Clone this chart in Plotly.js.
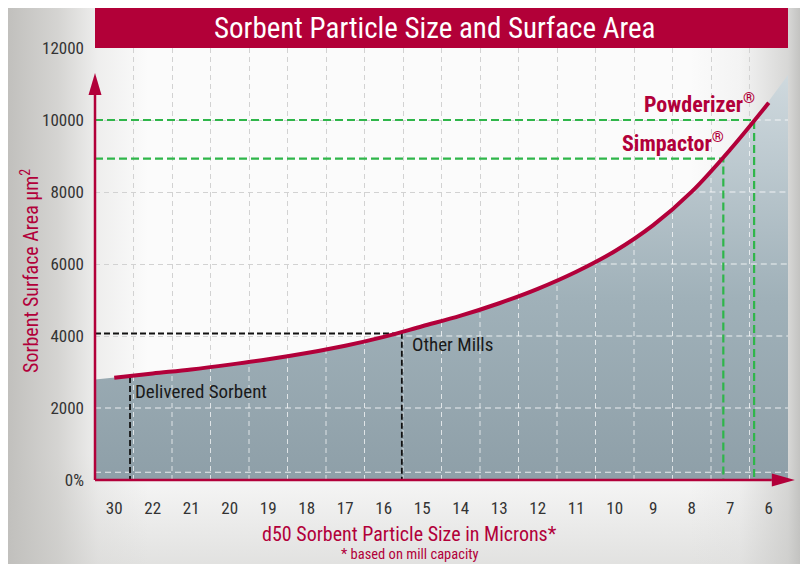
<!DOCTYPE html>
<html><head><meta charset="utf-8">
<script src="https://cdn.plot.ly/plotly-3.0.1.min.js"></script>
<style>
html,body{margin:0;padding:0;width:800px;height:564px;overflow:hidden;background:#fff;}
#bg{position:absolute;left:8px;top:8px;width:792px;height:556px;
background:
 linear-gradient(to right, #c1c0bd 0px, rgba(200,199,196,0.75) 50px, rgba(215,214,212,0.35) 90px, rgba(230,230,230,0) 140px),
 linear-gradient(to left, #c3c3c1 0px, rgba(200,200,198,0.7) 12px, rgba(220,220,220,0.25) 60px, rgba(230,230,230,0) 110px),
 linear-gradient(to top, rgba(215,215,213,0.7) 0px, rgba(230,230,230,0) 110px),
 #fbfbfb;}
#chart{position:absolute;left:0;top:0;width:800px;height:564px;}
</style></head><body>
<div id="bg"></div><div id="chart"></div>
<script>
// ---- data ----
const sizeLabels = ['30','22','21','20','19','18','17','16','15','14','13','12','11','10','9','8','7','6'];
const surfaceArea = [2842,2960,3070,3205,3355,3530,3730,3975,4270,4565,4910,5310,5785,6355,7080,8010,9180,10480];
// shaded area height at the 19 category edges
const areaEdges = [2790,2890,3010,3140,3275,3445,3620,3850,4115,4415,4730,5105,5535,6065,6690,7560,8560,9800,11250];
const millNames = ['Delivered Sorbent','Other Mills','Simpactor<sup>®</sup>','Powderizer<sup>®</sup>'];
const millPos = [0.91, 7.97, 16.32, 17.12];   // position along size axis, category units
const millArea = [2860, 4070, 8925, 10000];
const yTickVals = [0,2000,4000,6000,8000,10000,12000];
const yTickText = ['0%','2000','4000','6000','8000','10000','12000'];
const baseGridLevel = 215;

const RED = '#b2003a';
const GREEN = '#2fb64a';
const FONT = '"Liberation Sans Narrow","Roboto Condensed","DejaVu Sans Condensed",Roboto,sans-serif';
const nCat = sizeLabels.length;

const catCenters = sizeLabels.map((_, i) => i + 0.5);
const edgesX = areaEdges.map((_, k) => k);

// white grid segments over the shaded area
const gx = [], gy = [];
for (let k = 1; k < nCat; k++) { gx.push(k, k, null); gy.push(0, areaEdges[k], null); }
const hx = [], hy = [];
yTickVals.slice(1, -1).forEach(level => {
  let xs = null;
  if (areaEdges[0] >= level) xs = 0;
  else {
    for (let k = 0; k < areaEdges.length - 1; k++) {
      if (areaEdges[k] < level && areaEdges[k + 1] >= level) {
        xs = k + (level - areaEdges[k]) / (areaEdges[k + 1] - areaEdges[k]); break;
      }
    }
  }
  if (xs !== null) { hx.push(xs, nCat, null); hy.push(level, level, null); }
});
hx.push(0, nCat, null); hy.push(baseGridLevel, baseGridLevel, null);

const traces = [
  { x: edgesX, y: areaEdges, type: 'scatter', mode: 'lines', fill: 'tozeroy',
    line: { width: 0 }, fillgradient: { type: 'vertical', start: 0, stop: 11250,
    colorscale: [[0, '#8e9fa8'], [0.45, '#a0b1b9'], [1, '#cfd9de']] } },
  { x: gx, y: gy, type: 'scatter', mode: 'lines', line: { color: 'rgba(255,255,255,0.7)', width: 1, dash: '5px,4px' } },
  { x: hx, y: hy, type: 'scatter', mode: 'lines', line: { color: 'rgba(255,255,255,0.8)', width: 1, dash: '6px,4px' } }
];
millNames.forEach((n, i) => {
  const col = i < 2 ? '#111' : GREEN;
  const xs = i === 0 ? [millPos[i], millPos[i]] : [0, millPos[i], millPos[i]];
  const ys = i === 0 ? [millArea[i], 0] : [millArea[i], millArea[i], 0];
  traces.push({ x: xs, y: ys, type: 'scatter', mode: 'lines',
    line: { color: col, width: i < 2 ? 1.8 : 2.2, dash: i < 2 ? '6px,3px' : '8px,4px' } });
});
traces.push({ x: catCenters, y: surfaceArea, type: 'scatter', mode: 'lines',
  line: { color: RED, width: 4, shape: 'spline', smoothing: 1 } });

const annotations = [
  { xref: 'paper', yref: 'paper', x: 0.4899, y: 1.0463, xanchor: 'center', yanchor: 'middle',
    text: 'Sorbent Particle Size and Surface Area',
    showarrow: false, font: { family: FONT, size: 29, color: '#fff' } },
  { xref: 'paper', yref: 'paper', x: -0.0938, y: 0.4838, xanchor: 'center', yanchor: 'middle', textangle: -90,
    text: 'Sorbent Surface Area µm<sup>2</sup>',
    showarrow: false, font: { family: FONT, size: 20, color: RED } },
  { xref: 'paper', yref: 'paper', x: 0.4545, y: -0.1245, xanchor: 'center', yanchor: 'middle',
    text: 'd50 Sorbent Particle Size in Microns*',
    showarrow: false, font: { family: FONT, size: 20, color: RED } },
  { xref: 'paper', yref: 'paper', x: 0.4545, y: -0.1735, xanchor: 'center', yanchor: 'middle',
    text: '* based on mill capacity',
    showarrow: false, font: { family: FONT, size: 14.5, color: RED } }
];
millNames.forEach((n, i) => {
  if (i < 2) {
    annotations.push({ x: millPos[i], y: millArea[i], text: n, showarrow: false, xanchor: 'left', yanchor: 'middle',
      xshift: i === 0 ? 3 : 8, yshift: i === 0 ? -14 : -11, font: { family: FONT, size: 19, color: '#1a1a1a' } });
  } else {
    annotations.push({ x: millPos[i], y: millArea[i], text: '<b>' + n + '</b>', showarrow: false, xanchor: 'right', yanchor: 'middle',
      xshift: 3, yshift: 17, font: { family: FONT, size: 22, color: RED } });
  }
});

const yTopLine = 10694 / 12000;
const xEndLine = 17.58 / 18;
const shapes = [
  { type: 'rect', xref: 'paper', yref: 'paper', x0: 0, x1: 1, y0: 1, y1: 1 + 40 / 432, fillcolor: '#b20038', line: { width: 0 } },
  { type: 'line', xref: 'paper', yref: 'paper', x0: 0, x1: 0, y0: 0, y1: yTopLine, line: { color: RED, width: 2.5 } },
  { type: 'line', xref: 'paper', yref: 'paper', x0: 0, x1: xEndLine, y0: 0, y1: 0, line: { color: RED, width: 2.5 } },
  { type: 'path', xref: 'paper', yref: 'paper', xsizemode: 'pixel', ysizemode: 'pixel', xanchor: 0, yanchor: yTopLine,
    path: 'M-6.5,0 L0,22 L6.5,0 Z', fillcolor: RED, line: { width: 0 } },
  { type: 'path', xref: 'paper', yref: 'paper', xsizemode: 'pixel', ysizemode: 'pixel', xanchor: xEndLine, yanchor: 0,
    path: 'M0,-6.5 L23,0 L0,6.5 Z', fillcolor: RED, line: { width: 0 } }
];

const layout = {
  width: 800, height: 564,
  margin: { l: 95, r: 12, t: 48, b: 84 },
  paper_bgcolor: 'rgba(0,0,0,0)', plot_bgcolor: 'rgba(0,0,0,0)',
  showlegend: false,
  xaxis: { range: [0, nCat], tickvals: catCenters, ticktext: sizeLabels, showgrid: false, zeroline: false,
    showline: false, ticks: '', ticklabelstandoff: 16, tickfont: { family: FONT, size: 17, color: '#333' },
    minor: { tick0: 0, dtick: 1, showgrid: true, gridcolor: '#d2d2d2', griddash: '5px,4px', gridwidth: 1, ticks: '' },
    fixedrange: true },
  yaxis: { range: [0, 12000], tickvals: yTickVals, ticktext: yTickText, showgrid: true, gridcolor: '#d2d2d2',
    griddash: '5px,4px', gridwidth: 1, zeroline: false, showline: false, ticks: '', ticklabelstandoff: 10,
    tickfont: { family: FONT, size: 17, color: '#333' }, fixedrange: true },
  annotations, shapes
};
Plotly.newPlot('chart', traces, layout, { staticPlot: true, displayModeBar: false });
</script>
</body></html>
